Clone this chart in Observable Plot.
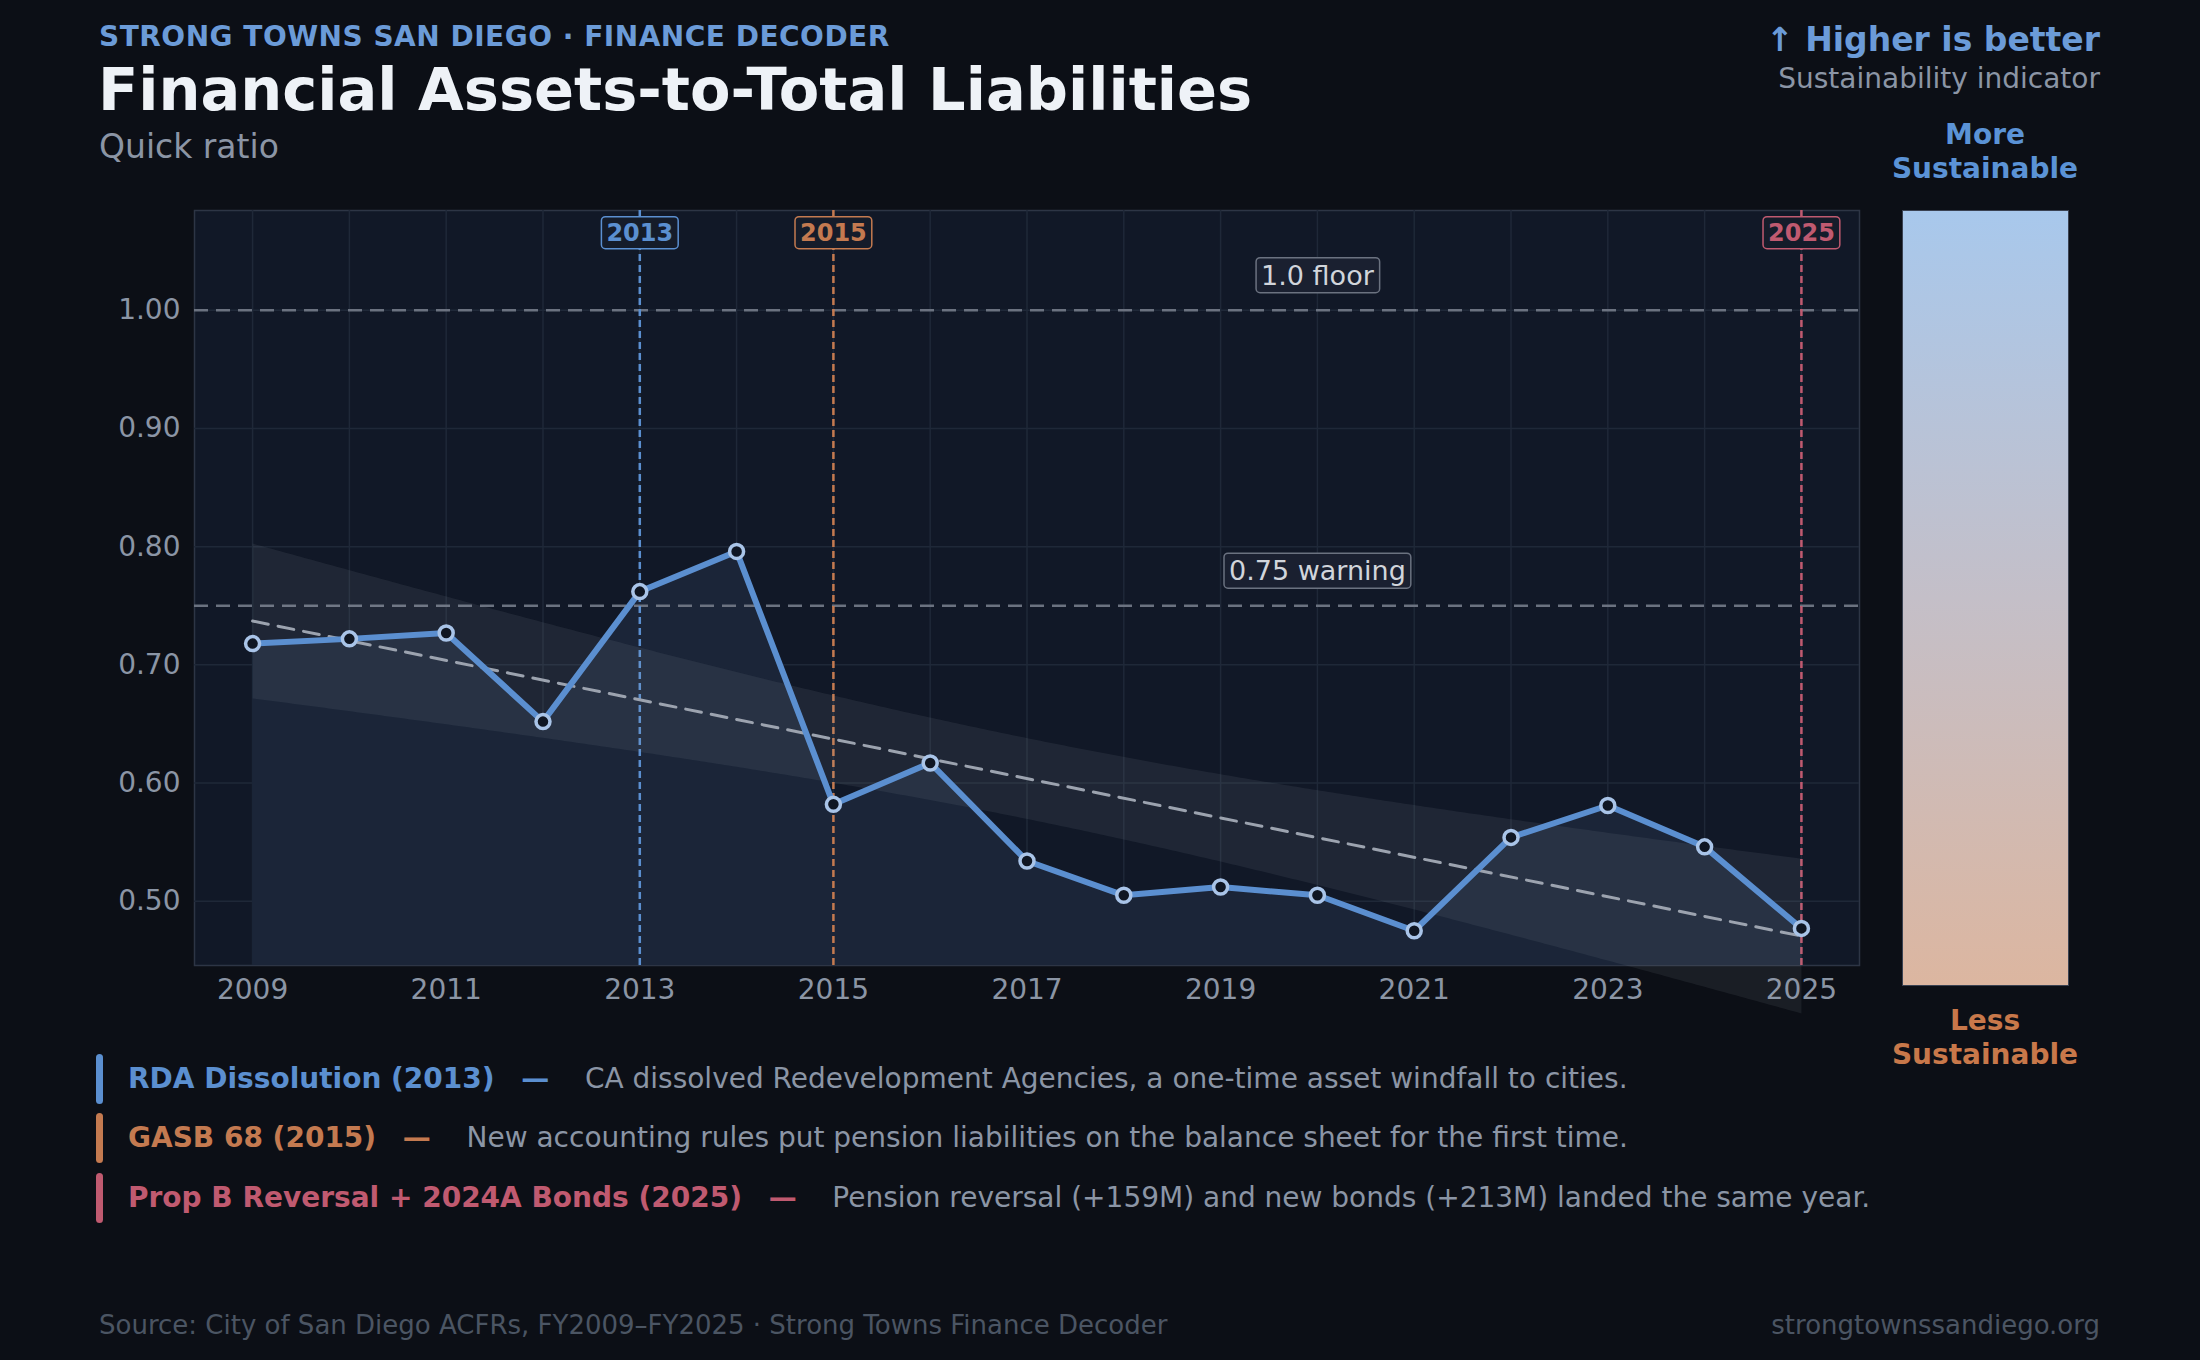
<!DOCTYPE html>
<html><head><meta charset="utf-8">
<script src="https://cdn.jsdelivr.net/npm/d3@7"></script>
<script src="https://cdn.jsdelivr.net/npm/@observablehq/plot@0.6"></script>
<style>
body{margin:0;background:#0c0f16;width:2200px;height:1360px;overflow:hidden;font-family:"DejaVu Sans",sans-serif;}
.t{position:absolute;white-space:nowrap;}
#chart{position:absolute;left:0;top:190px;}
.bar{position:absolute;left:96px;width:7px;height:50px;border-radius:4px;}
</style></head><body>
<div class="t" style="left:99px;top:20px;font-size:28px;font-weight:bold;color:#6b9bd8;letter-spacing:0.5px">STRONG TOWNS SAN DIEGO · FINANCE DECODER</div>
<div class="t" style="left:98px;top:55px;font-size:59px;font-weight:bold;color:#eef2f7">Financial Assets-to-Total Liabilities</div>
<div class="t" style="left:99px;top:127px;font-size:33px;color:#8b95a5">Quick ratio</div>
<div class="t" style="right:100px;top:20px;font-size:33px;font-weight:bold;color:#6b9bd8">↑ Higher is better</div>
<div class="t" style="right:100px;top:62px;font-size:28px;color:#8b95a5">Sustainability indicator</div>
<div class="t" style="left:1885px;width:200px;top:118px;font-size:28px;font-weight:bold;color:#5b93d6;text-align:center;line-height:34px">More<br>Sustainable</div>
<div style="position:absolute;left:1902px;top:210px;width:165px;height:774px;border:1.5px solid #3a4252;background:linear-gradient(#a8c8ec,#c4bfc8 50%,#dcb6a0)"></div>
<div class="t" style="left:1885px;width:200px;top:1004px;font-size:28px;font-weight:bold;color:#c8784a;text-align:center;line-height:34px">Less<br>Sustainable</div>
<div id="chart"></div>
<div id="legend"></div>
<div class="t" style="left:99px;top:1310px;font-size:26px;color:#4b5563">Source: City of San Diego ACFRs, FY2009–FY2025 · Strong Towns Finance Decoder</div>
<div class="t" style="right:100px;top:1310px;font-size:26px;color:#4b5563">strongtownssandiego.org</div>
<script>
const years=[2009,2010,2011,2012,2013,2014,2015,2016,2017,2018,2019,2020,2021,2022,2023,2024,2025];
const ratios=[0.718,0.722,0.727,0.652,0.762,0.796,0.582,0.617,0.534,0.505,0.512,0.505,0.475,0.554,0.581,0.546,0.477];
const eventYears=[2013,2015,2025];
const eventColors=["#5b8fd0","#c47a50","#c05a70"];
const eventTitles=["RDA Dissolution (2013)","GASB 68 (2015)","Prop B Reversal + 2024A Bonds (2025)"];
const eventDescs=["CA dissolved Redevelopment Agencies, a one-time asset windfall to cities.","New accounting rules put pension liabilities on the balance sheet for the first time.","Pension reversal (+159M) and new bonds (+213M) landed the same year."];
const thresholds=[1.0,0.75];
const thresholdLabels=["1.0 floor","0.75 warning"];
const thresholdLabelY=[1.029,0.779];
const yTicks=[0.5,0.6,0.7,0.8,0.9,1.0];
const xTicks=[2009,2011,2013,2015,2017,2019,2021,2023,2025];

const data=years.map((y,i)=>({year:y,v:ratios[i]}));
const ev=eventYears.map((y,i)=>({year:y,c:eventColors[i]}));
const th=thresholds.map((t,i)=>({t,label:thresholdLabels[i],ly:thresholdLabelY[i]}));
const yMin=0.4456,yMax=1.0845;
const chart=Plot.plot({
  width:1880,height:870,marginLeft:194,marginRight:21,marginTop:20,marginBottom:95,
  style:{background:"transparent",color:"#8b95a5",fontSize:"28px",fontFamily:"DejaVu Sans"},
  x:{domain:[2008.4,2025.6],ticks:xTicks,tickFormat:d=>String(d),tickSize:0,tickPadding:14,label:null},
  y:{domain:[yMin,yMax],ticks:yTicks,tickFormat:d=>d.toFixed(2),tickSize:0,tickPadding:14,label:null},
  marks:[
    Plot.frame({fill:"#111827",stroke:"#2d3545",strokeWidth:1.5}),
    Plot.ruleX(years,{x:d=>d,stroke:"#1f2838",strokeWidth:1.5}),
    Plot.ruleY(yTicks,{y:d=>d,stroke:"#1f2838",strokeWidth:1.5}),
    Plot.areaY(data,{x:"year",y1:yMin,y2:"v",fill:"#1b2538"}),
    Plot.ruleY(th,{y:"t",stroke:"#6b7280",strokeWidth:2.5,strokeDasharray:"14,8"}),
    Plot.ruleX(ev,{x:"year",stroke:"c",strokeWidth:2.5,strokeDasharray:"7,4"}),
    Plot.linearRegressionY(data,{x:"year",y:"v",stroke:"#9ca3af",strokeWidth:3,strokeDasharray:"16,10"}),
    Plot.line(data,{x:"year",y:"v",stroke:"#5b8fd0",strokeWidth:6,strokeLinejoin:"round"}),
    Plot.dot(data,{x:"year",y:"v",r:7,fill:"#0f1623",stroke:"#a9c4e8",strokeWidth:3.5}),
    Plot.text(th,{x:2020,y:"ly",text:"label",fill:"#d1d5db",fontSize:27}),
    Plot.text(ev,{x:"year",y:1.0655,text:d=>String(d.year),fill:"c",fontSize:24,fontWeight:"bold"})
  ],
  color:{type:"identity"}
});
document.getElementById("chart").append(chart);
// boxes behind labels
const boxed=new Map([...thresholdLabels.map(l=>[l,{stroke:"#6b7280",fill:"#1a2030"}]),...eventYears.map((y,i)=>[String(y),{stroke:eventColors[i],fill:"#151c2a"}])]);
d3.select(chart).selectAll("text").each(function(){
  const s=boxed.get(this.textContent);
  if(!s||this.closest("[aria-label*='axis']"))return;
  const b=this.getBBox();
  const parent=this.parentNode;
  const r=document.createElementNS("http://www.w3.org/2000/svg","rect");
  const p=5;
  r.setAttribute("x",b.x-p);r.setAttribute("y",b.y-2);r.setAttribute("width",b.width+2*p);r.setAttribute("height",b.height+4);
  r.setAttribute("rx",4);r.setAttribute("fill",s.fill);r.setAttribute("stroke",s.stroke);r.setAttribute("stroke-width",1.5);
  const tr=this.getAttribute("transform");if(tr)r.setAttribute("transform",tr);
  parent.insertBefore(r,this);
});
const lg=document.getElementById("legend");
const tops=[1054,1113,1173];
eventTitles.forEach((t,i)=>{
  lg.insertAdjacentHTML("beforeend",`<div class="bar" style="top:${tops[i]}px;background:${eventColors[i]}"></div>
  <div class="t" style="left:128px;top:${tops[i]+8}px;font-size:28px;color:#8b95a5"><b style="color:${eventColors[i]}">${t}</b>&nbsp;&nbsp;&nbsp;<b style="color:${eventColors[i]}">—</b>&nbsp;&nbsp;&nbsp;&nbsp;${eventDescs[i]}</div>`);
});
</script>
</body></html>
